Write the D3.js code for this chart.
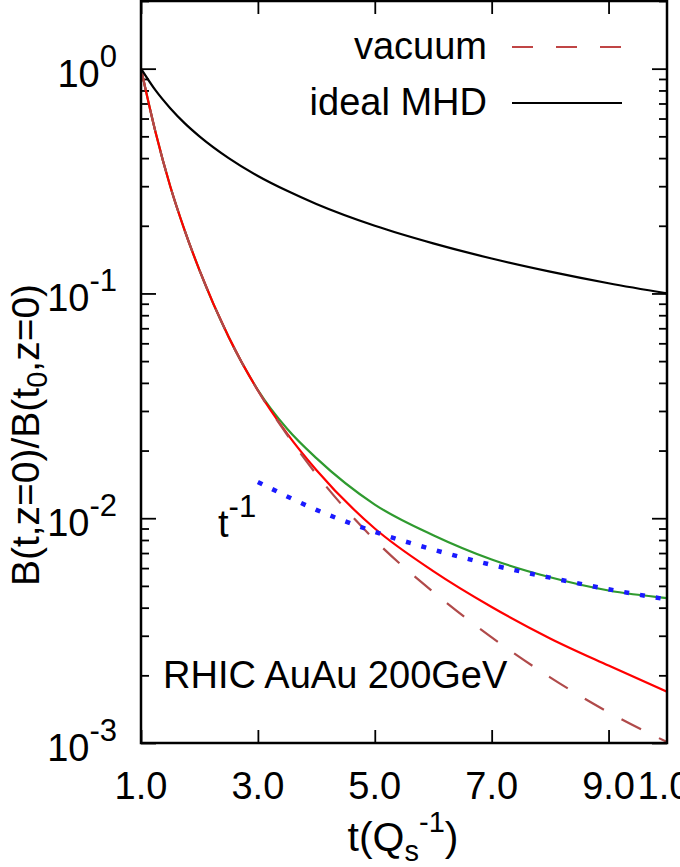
<!DOCTYPE html>
<html lang="en">
<head>
<meta charset="UTF-8">
<title>B(t,z=0)/B(t0,z=0)</title>
<style>
  body { margin: 0; background: #fff; }
  svg { display: block; font-family: "Liberation Sans", Arial, sans-serif; }
  .axis path { display: none; }
  .axis line { stroke: #000; stroke-width: 1.8; }
</style>
<script src="https://d3js.org/d3.v7.min.js"></script>
</head>
<body>
<div id="chart"></div>
<script>
// time grid (in units of Qs^-1) and curves
var tGrid = [1, 1.25, 1.5, 1.75, 2, 2.5, 3, 3.5, 4, 5, 6, 7, 8, 9, 10];
var idealMHD = [1, 0.8, 0.667, 0.571, 0.5, 0.4, 0.333, 0.286, 0.25, 0.2, 0.167, 0.143, 0.125, 0.111, 0.1];
var greenCurve = [1, 0.52, 0.30, 0.19, 0.127, 0.064, 0.0372, 0.0250, 0.0185, 0.0115, 0.0084, 0.00655, 0.00546, 0.00477, 0.00441];
var redCurve = [1, 0.52, 0.30, 0.19, 0.127, 0.064, 0.037, 0.0238, 0.0164, 0.0090, 0.00582, 0.00403, 0.00292, 0.00221, 0.00169];
var vacuum = [1, 0.52, 0.30, 0.19, 0.127, 0.064, 0.037, 0.0235, 0.0157, 0.0080, 0.0047, 0.00295, 0.00196, 0.00137, 0.00101];

// t^-1 reference line
var tInv = [3, 4, 5, 6, 7, 8, 9, 10];
var invLine = [0.0145, 0.0109, 0.0087, 0.00725, 0.0062, 0.00544, 0.00483, 0.00435];

// ticks
var xTicks = [1, 3, 5, 7, 9];
var yDecades = [1e-3, 1e-2, 1e-1, 1];
var yExponents = ["-3", "-2", "-1", "0"];
var yMinor = [];
yDecades.forEach(function(d) {
  [2, 3, 4, 5, 6, 7, 8, 9].forEach(function(m) { if (d * m <= 2) yMinor.push(d * m); });
});

var W = 680, H = 867;
var pLeft = 141, pRight = 667, pTop = 1, pBottom = 743;

var x = d3.scaleLinear().domain([1, 10]).range([pLeft, pRight]);
var y = d3.scaleLog().domain([1e-3, 2]).range([pBottom, pTop]);

var svg = d3.select("#chart").append("svg")
  .attr("width", W)
  .attr("height", H);

svg.append("clipPath").attr("id", "clip")
  .append("rect")
  .attr("x", pLeft).attr("y", pTop)
  .attr("width", pRight - pLeft).attr("height", pBottom - pTop);

// axes, ticks pointing inward
svg.append("g").attr("class", "axis")
  .attr("transform", "translate(0," + pBottom + ")")
  .call(d3.axisBottom(x).tickValues(xTicks).tickSizeInner(-13).tickSizeOuter(0).tickFormat(""));
svg.append("g").attr("class", "axis")
  .attr("transform", "translate(0," + pTop + ")")
  .call(d3.axisTop(x).tickValues(xTicks).tickSizeInner(-13).tickSizeOuter(0).tickFormat(""));
svg.append("g").attr("class", "axis")
  .attr("transform", "translate(" + pLeft + ",0)")
  .call(d3.axisLeft(y).tickValues(yDecades).tickSizeInner(-15).tickSizeOuter(0).tickFormat(""));
svg.append("g").attr("class", "axis")
  .attr("transform", "translate(" + pLeft + ",0)")
  .call(d3.axisLeft(y).tickValues(yMinor).tickSizeInner(-8).tickSizeOuter(0).tickFormat(""));
svg.append("g").attr("class", "axis")
  .attr("transform", "translate(" + pRight + ",0)")
  .call(d3.axisRight(y).tickValues(yDecades).tickSizeInner(-15).tickSizeOuter(0).tickFormat(""));
svg.append("g").attr("class", "axis")
  .attr("transform", "translate(" + pRight + ",0)")
  .call(d3.axisRight(y).tickValues(yMinor).tickSizeInner(-8).tickSizeOuter(0).tickFormat(""));

// x tick labels (plus the first label of the next panel at the right edge)
svg.append("g").selectAll("text")
  .data(xTicks.concat([10]))
  .enter().append("text")
  .attr("x", function(d) { return x(d) + (d === 10 ? -3 : 0); })
  .attr("y", 799)
  .attr("text-anchor", "middle")
  .attr("font-size", 38)
  .text(function(d) { return d === 10 ? "1.0" : d3.format(".1f")(d); });

// y tick labels 10^n
var yl = svg.append("g").selectAll("text")
  .data(yDecades)
  .enter().append("text")
  .attr("x", 117)
  .attr("y", function(d) { return y(d) + 18; })
  .attr("text-anchor", "end")
  .attr("font-size", 38);
yl.append("tspan").text("10");
yl.append("tspan").attr("dy", -20).attr("font-size", 31)
  .text(function(d, i) { return yExponents[i]; });

// curves
var line = d3.line()
  .x(function(d) { return x(d[0]); })
  .y(function(d) { return y(d[1]); })
  .curve(d3.curveMonotoneX);

function pts(ts, vs) { return ts.map(function(t, i) { return [t, vs[i]]; }); }

var plot = svg.append("g").attr("clip-path", "url(#clip)");

plot.append("path").attr("d", line(pts(tGrid, greenCurve)))
  .attr("fill", "none").attr("stroke", "#2f9a2f").attr("stroke-width", 2.2);
plot.append("path").attr("d", line(pts(tGrid, redCurve)))
  .attr("fill", "none").attr("stroke", "#ff0000").attr("stroke-width", 2.2);
plot.append("path").attr("d", line(pts(tGrid, vacuum)))
  .attr("fill", "none").attr("stroke", "#b04a4a").attr("stroke-width", 2.2)
  .attr("stroke-dasharray", "22,20");
plot.append("path").attr("d", line(pts(tInv, invLine)))
  .attr("fill", "none").attr("stroke", "#1a1aff").attr("stroke-width", 4.5)
  .attr("stroke-dasharray", "5,11");
plot.append("path").attr("d", line(pts(tGrid, idealMHD)))
  .attr("fill", "none").attr("stroke", "#000").attr("stroke-width", 2.2);

// frame
svg.append("rect")
  .attr("x", pLeft).attr("y", pTop)
  .attr("width", pRight - pLeft).attr("height", pBottom - pTop)
  .attr("fill", "none").attr("stroke", "#000").attr("stroke-width", 2.5);

// legend
var legend = [
  { label: "vacuum", color: "#c04545", dash: "21,23", y: 47 },
  { label: "ideal MHD", color: "#000", dash: null, y: 103 }
];
var lg = svg.append("g").selectAll("g").data(legend).enter().append("g");
lg.append("text")
  .attr("x", 487).attr("y", function(d) { return d.y + 12; })
  .attr("text-anchor", "end").attr("font-size", 38)
  .text(function(d) { return d.label; });
lg.append("line")
  .attr("x1", 512).attr("x2", 622)
  .attr("y1", function(d) { return d.y; }).attr("y2", function(d) { return d.y; })
  .attr("stroke", function(d) { return d.color; })
  .attr("stroke-width", 2.2)
  .attr("stroke-dasharray", function(d) { return d.dash; });

// t^-1 annotation
var ann = svg.append("text").attr("x", 218).attr("y", 537).attr("font-size", 38);
ann.append("tspan").text("t");
ann.append("tspan").attr("dy", -20).attr("font-size", 31).text("-1");

// collision label
svg.append("text").attr("x", 163).attr("y", 688).attr("font-size", 38)
  .text("RHIC AuAu 200GeV");

// y axis title
var yt = svg.append("text")
  .attr("transform", "translate(39,435) rotate(-90)")
  .attr("text-anchor", "middle")
  .attr("font-size", 39);
yt.append("tspan").text("B(t,z=0)/B(t");
yt.append("tspan").attr("dy", 8).attr("font-size", 29).text("0");
yt.append("tspan").attr("dy", -8).text(",z=0)");

// x axis title: t(Q_s^-1)
var xt = svg.append("text")
  .attr("x", 403).attr("y", 851)
  .attr("text-anchor", "middle")
  .attr("font-size", 41);
xt.append("tspan").text("t(Q");
xt.append("tspan").attr("dy", 10).attr("font-size", 29).text("s");
xt.append("tspan").attr("dy", -29).attr("font-size", 29).text("-1");
xt.append("tspan").attr("dy", 19).text(")");
</script>
</body>
</html>
